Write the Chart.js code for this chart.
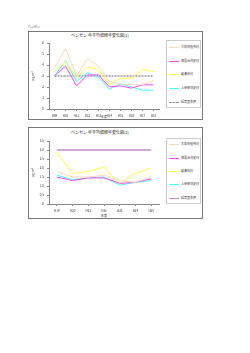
<!DOCTYPE html>
<html>
<head>
<meta charset="utf-8">
<script src="https://cdn.jsdelivr.net/npm/chart.js@4/dist/chart.umd.min.js"></script>
<style>
  body { margin: 0; background: #fff; font-family: "Noto Sans CJK JP", sans-serif; }
  .frame { position: absolute; left: 28px; width: 175px; box-sizing: border-box; border: 1px solid #777; }
  .cv { position: absolute; left: 29px; }
  .ttl { position: absolute; left: 50px; width: 100px; text-align: center; font-size: 4px; line-height: 5px; color: #222; white-space: nowrap; }
  .lg { position: absolute; left: 166px; width: 35px; box-sizing: border-box; border: 1px solid #ccc; background: #fff; }
  .lg div { position: absolute; left: 2px; font-size: 3px; color: #333; white-space: nowrap; line-height: 3px; }
  .lg span { display: inline-block; width: 10px; height: 0; vertical-align: middle; margin-right: 2px; }
  .top { position: absolute; left: 28px; top: 25px; font-size: 3px; color: #333; }
</style>
</head>
<body>
<div class="top">ベンゼン</div>

<div class="frame" style="top:31px;height:89px"></div>
<div class="ttl" style="top:33px">ベンゼン 年平均値経年変化図(1)</div>
<canvas class="cv" id="c1" width="173" height="87" style="top:32px"></canvas>
<div class="lg" id="lg1" style="top:40px;height:68px"></div>

<div class="frame" style="top:127px;height:92px"></div>
<div class="ttl" style="top:130px">ベンゼン 年平均値経年変化図(2)</div>
<canvas class="cv" id="c2" width="173" height="90" style="top:128px"></canvas>
<div class="lg" id="lg2" style="top:138px;height:66px"></div>

<script>
  // 凡例
  const stations = ["大和市役所局", "深見台測定局", "綾瀬市局", "上草柳測定局", "環境基準値"];
  const colors = ["#FFD9B8", "#FF44FF", "#FFFF44", "#44FFFF"];

  // (1) H09-H18
  const years1 = ["H09", "H10", "H11", "H12", "H13", "H14", "H15", "H16", "H17", "H18"];
  const stA1 = [3.7, 5.5, 3.0, 4.6, 3.9, 2.5, 2.3, 2.2, 2.2, 2.6];
  const stB1 = [3.0, 3.9, 2.1, 3.1, 3.1, 2.0, 2.1, 1.9, 2.2, 2.2];
  const stC1 = [3.4, 4.3, 2.9, 3.8, 3.6, 2.2, 2.8, 2.8, 3.6, 3.4];
  const stD1 = [3.0, 4.4, 2.5, 3.3, 2.9, 1.8, 2.3, 2.0, 1.7, 1.7];
  const std1 = [3, 3, 3, 3, 3, 3, 3, 3, 3, 3];

  // (2) H19-H25
  const years2 = ["H19", "H20", "H21", "H22", "H23", "H24", "H25"];
  const stA2 = [1.8, 1.5, 1.5, 1.6, 1.3, 1.2, 1.5];
  const stB2 = [1.5, 1.3, 1.45, 1.45, 1.15, 1.2, 1.4];
  const stC2 = [2.85, 1.7, 1.8, 2.05, 1.1, 1.7, 2.0];
  const stD2 = [1.6, 1.35, 1.45, 1.5, 1.05, 1.2, 1.3];
  const std2 = [3, 3, 3, 3, 3, 3, 3];

  const tickFont = { size: 3, family: "'Noto Sans CJK JP', sans-serif" };

  function makeChart(id, labels, rows, stdColor, stdDash, yMax, yStep, topPad, xH) {
    const ds = rows.slice(0, 4).map((d, i) => ({
      label: stations[i], data: d, borderColor: colors[i], borderWidth: 1,
      pointRadius: 0, tension: 0, fill: false
    }));
    ds.push({
      label: stations[4], data: rows[4], borderColor: stdColor, borderWidth: 1.5,
      borderDash: stdDash, pointRadius: 0, fill: false
    });
    return new Chart(document.getElementById(id), {
      type: "line",
      data: { labels: labels, datasets: ds },
      options: {
        responsive: false,
        animation: false,
        events: [],
        layout: { padding: { left: 0, right: 43, top: topPad, bottom: 0 } },
        plugins: { legend: { display: false }, tooltip: { enabled: false } },
        scales: {
          x: {
            offset: true,
            grid: { drawOnChartArea: false, tickLength: 2, color: "#888" },
            border: { color: "#888" },
            ticks: { font: tickFont, color: "#333", padding: 3, maxRotation: 0, autoSkip: false },
            title: { display: true, text: "年度", font: tickFont, color: "#333", padding: 0 },
            afterFit: s => { s.height = xH; }
          },
          y: {
            min: 0, max: yMax,
            grid: { drawOnChartArea: false, tickLength: 2, color: "#888" },
            border: { color: "#888" },
            ticks: { stepSize: yStep, font: tickFont, color: "#333", padding: 3 },
            title: { display: true, text: "μg/m³", font: tickFont, color: "#333", padding: { top: 2, bottom: 0 } },
            afterFit: s => { s.width = 20; }
          }
        }
      }
    });
  }

  makeChart("c1", years1, [stA1, stB1, stC1, stD1, std1], "#999999", [2, 1], 6, 1, 11, 10);
  makeChart("c2", years2, [stA2, stB2, stC2, stD2, std2], "#C58AC8", [], 3.5, 0.5, 13, 14);

  function legend(id, stdColor, dashed, ys) {
    const el = document.getElementById(id);
    stations.forEach((name, i) => {
      const row = document.createElement("div");
      row.style.top = ys[i] + "px";
      const sw = document.createElement("span");
      const c = i < 4 ? colors[i] : stdColor;
      sw.style.borderTop = (i === 4 && dashed ? "1px dashed " : "1px solid ") + c;
      row.appendChild(sw);
      row.appendChild(document.createTextNode(name));
      el.appendChild(row);
    });
  }
  legend("lg1", "#999999", true, [5, 19, 32, 46, 60]);
  legend("lg2", "#C58AC8", false, [4, 18, 31, 44, 58]);
</script>
</body>
</html>
